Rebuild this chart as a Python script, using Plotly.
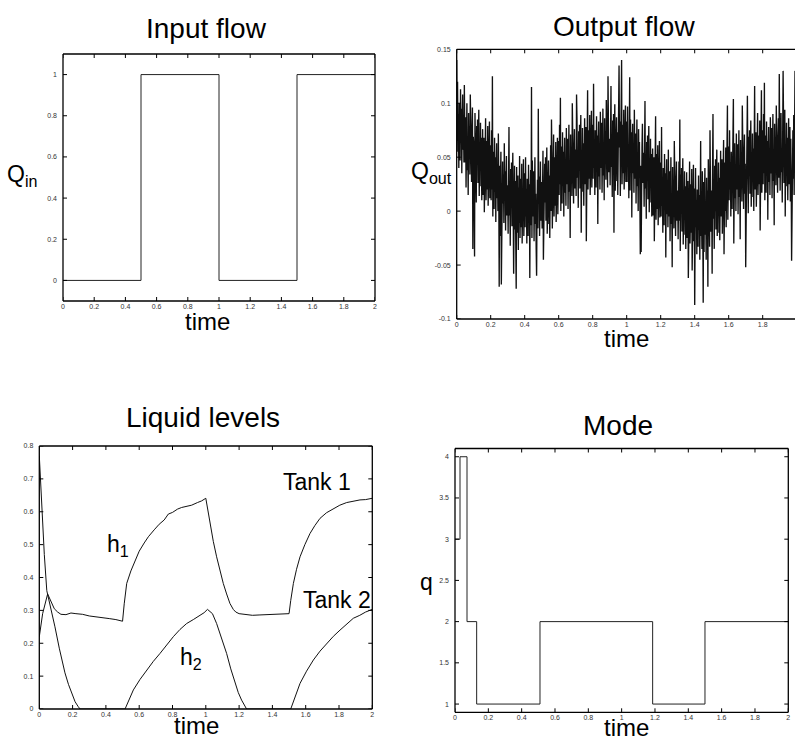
import plotly.graph_objects as go
import numpy as np

W, H = 795, 743

# input flow (step signal)
t_in = [0, 0.5, 1.0, 1.5, 2.0]
q_in = [0, 1, 0, 1, 1]

q_out = [
    0.14, 0.055, 0.12, 0.065, 0.09, 0.04, 0.1, 0.08, 0.047, 0.113, 0.063, 0.095, 0.035, 0.085, 0.108, 0.057, 0.083, 0.045, 0.117, 0.069,
    0.045, 0.087, 0.022, 0.072, 0.1, 0.038, 0.066, 0.015, 0.091, 0.052, 0.079, 0.034, 0.108, 0.057, 0.082, 0.027, 0.074, 0.096, -0.035, 0.069,
    0.062, 0.019, -0.042, 0.091, 0.036, 0.053, 0.008, 0.079, 0.043, 0.085, 0.026, 0.066, 0.094, 0.014, 0.057, 0.039, 0.082, 0.023, 0.068, 0.01,
    0.031, 0.076, 0.015, 0.044, 0.068, -0.001, 0.057, 0.024, 0.086, 0.01, 0.051, 0.065, 0.02, 0.079, 0.005, 0.042, 0.028, 0.083, 0.012, 0.061,
    0.06, 0.01, 0.075, 0.02, 0.125, -0.005, 0.055, 0.035, 0.002, 0.068, 0.018, 0.05, -0.01, 0.04, 0.063, 0.012, 0.038, 0.0, 0.072, 0.024,
    -0.07, 0.042, -0.023, 0.027, 0.055, -0.068, 0.021, -0.03, 0.046, 0.007, 0.034, -0.011, 0.063, 0.012, 0.037, -0.018, 0.029, 0.051, -0.004, 0.024,
    0.022, -0.021, 0.034, 0.078, -0.004, 0.013, -0.032, 0.039, 0.003, 0.045, -0.014, 0.026, 0.054, -0.026, -0.058, -0.001, 0.042, -0.017, 0.028, -0.03,
    -0.072, 0.041, -0.02, 0.009, 0.033, -0.036, 0.022, -0.011, 0.051, -0.025, 0.016, 0.03, -0.015, 0.044, -0.03, 0.007, -0.007, 0.048, -0.023, 0.026,
    0.035, -0.015, 0.05, -0.005, 0.02, -0.03, 0.03, 0.01, -0.023, 0.043, -0.007, 0.025, -0.062, 0.015, 0.038, -0.013, 0.115, -0.025, 0.047, -0.001,
    -0.005, 0.037, -0.028, 0.022, 0.05, -0.012, 0.016, -0.035, -0.06, 0.002, 0.029, -0.016, 0.095, 0.007, 0.032, -0.023, 0.024, 0.046, -0.009, 0.019,
    0.027, -0.016, 0.039, 0.056, -0.045, 0.018, -0.027, 0.044, 0.008, 0.05, -0.009, 0.031, 0.059, -0.021, 0.022, 0.004, 0.047, -0.012, 0.033, -0.025,
    0.016, 0.061, 0.0, 0.085, 0.053, -0.016, 0.042, 0.009, 0.071, -0.005, 0.036, 0.05, 0.005, 0.064, -0.01, 0.027, 0.013, 0.068, -0.003, 0.046,
    0.065, 0.015, 0.08, 0.025, 0.105, 0.0, 0.06, 0.04, 0.007, 0.073, 0.023, 0.055, -0.005, 0.045, 0.068, 0.017, 0.043, 0.005, 0.077, 0.029,
    0.025, 0.067, 0.002, 0.052, 0.08, 0.018, 0.046, -0.025, 0.071, 0.032, 0.059, 0.014, 0.1, 0.037, 0.062, 0.007, 0.054, 0.076, 0.021, 0.049,
    0.057, 0.014, 0.108, 0.086, 0.031, 0.048, 0.003, 0.074, 0.038, 0.08, 0.021, 0.061, 0.089, -0.02, 0.052, 0.034, 0.077, 0.018, 0.063, 0.005,
    0.041, 0.086, 0.025, 0.054, 0.078, -0.028, 0.067, 0.034, 0.112, 0.02, 0.061, 0.075, 0.03, 0.089, 0.015, 0.052, 0.038, 0.093, 0.022, 0.071,
    0.08, 0.03, 0.118, 0.04, 0.065, 0.015, 0.075, 0.055, 0.022, 0.088, 0.038, 0.07, -0.012, 0.06, 0.083, 0.032, 0.058, 0.02, 0.092, 0.044,
    0.04, 0.082, 0.017, 0.067, 0.095, 0.033, 0.061, 0.01, 0.086, 0.047, 0.074, 0.029, 0.103, 0.052, 0.077, 0.022, 0.125, 0.091, 0.036, 0.064,
    0.067, 0.024, 0.079, 0.116, 0.041, 0.058, 0.013, 0.084, 0.048, 0.09, -0.02, 0.071, 0.099, 0.019, 0.062, 0.044, 0.087, 0.028, 0.073, 0.015,
    0.046, 0.091, 0.135, 0.059, 0.083, 0.014, 0.072, 0.039, 0.14, 0.025, 0.066, 0.08, 0.035, 0.094, 0.02, 0.057, 0.043, 0.098, 0.027, 0.076,
    0.083, 0.027, 0.097, 0.043, 0.062, 0.012, 0.078, 0.124, 0.019, 0.085, 0.041, 0.073, -0.006, 0.057, 0.081, 0.035, 0.061, 0.017, 0.094, 0.047,
    0.03, 0.072, 0.007, 0.057, 0.085, 0.023, 0.051, 0.0, 0.076, 0.037, 0.064, 0.019, -0.04, 0.042, -0.038, 0.012, 0.059, 0.081, 0.026, 0.054,
    0.047, 0.004, 0.059, 0.102, 0.021, 0.038, -0.007, 0.064, 0.028, 0.07, 0.011, 0.051, 0.079, -0.001, 0.042, 0.024, 0.067, 0.008, 0.053, -0.005,
    0.019, 0.058, -0.004, 0.032, 0.05, -0.028, 0.045, 0.006, 0.088, -0.008, 0.033, 0.053, 0.002, 0.061, -0.013, 0.03, 0.01, 0.065, -0.006, 0.043,
    0.045, -0.005, 0.078, 0.005, 0.03, -0.02, 0.04, 0.02, -0.013, 0.053, 0.003, 0.035, -0.043, 0.025, 0.048, -0.003, 0.023, -0.015, 0.057, 0.009,
    -0.005, 0.037, -0.028, 0.022, 0.05, -0.012, 0.016, -0.052, 0.041, 0.002, 0.029, -0.016, 0.065, 0.007, 0.032, -0.023, 0.024, 0.046, -0.009, 0.019,
    0.017, -0.026, 0.029, 0.046, -0.009, 0.085, -0.037, 0.034, -0.002, 0.04, -0.019, 0.021, 0.049, -0.031, 0.012, -0.006, 0.037, -0.022, 0.023, -0.035,
    -0.009, 0.036, -0.025, 0.004, 0.028, -0.062, 0.017, -0.016, 0.046, -0.03, 0.011, 0.025, -0.02, 0.039, -0.055, 0.002, -0.012, 0.043, -0.028, 0.021,
    -0.087, -0.025, 0.04, -0.015, 0.01, -0.04, 0.02, 0.0, -0.033, 0.033, -0.017, 0.015, -0.045, 0.005, 0.065, -0.023, -0.003, -0.035, 0.037, -0.011,
    -0.085, 0.027, -0.038, 0.012, 0.04, -0.022, 0.006, -0.045, 0.031, -0.008, 0.019, -0.07, 0.048, -0.003, 0.022, -0.033, 0.075, 0.036, -0.019, 0.009,
    0.019, -0.058, 0.037, 0.09, -0.007, 0.016, -0.035, 0.042, 0.0, 0.048, -0.017, 0.029, 0.057, -0.023, 0.014, 0.002, 0.045, -0.02, 0.031, -0.027,
    0.011, 0.056, -0.005, 0.024, 0.048, -0.021, 0.037, 0.004, 0.066, -0.04, 0.031, 0.045, 0.0, 0.059, -0.015, 0.022, 0.008, 0.098, -0.008, 0.041,
    0.06, 0.01, 0.075, 0.02, 0.045, -0.005, 0.055, 0.035, 0.002, 0.068, 0.018, 0.104, -0.03, 0.04, 0.063, 0.012, 0.038, 0.0, 0.072, 0.024,
    0.02, 0.062, -0.003, 0.047, 0.075, 0.013, 0.041, -0.026, 0.066, 0.027, 0.054, 0.009, 0.098, 0.032, 0.057, 0.002, 0.049, 0.071, 0.016, 0.044,
    -0.052, 0.009, 0.064, 0.081, 0.107, 0.043, -0.002, 0.069, 0.033, 0.075, 0.016, 0.056, 0.084, 0.004, 0.047, 0.029, 0.072, 0.013, 0.058, 0.0,
    0.036, 0.116, 0.02, 0.049, 0.073, 0.004, 0.062, 0.029, 0.091, 0.015, 0.056, 0.07, 0.025, 0.084, -0.018, 0.047, 0.033, 0.112, 0.017, 0.066,
    0.075, 0.025, 0.09, 0.035, 0.119, 0.01, 0.07, 0.05, 0.017, 0.083, 0.033, 0.065, -0.008, 0.055, 0.078, 0.027, 0.053, 0.015, 0.087, 0.039,
    0.035, 0.077, 0.012, 0.062, 0.09, 0.028, 0.056, -0.013, 0.081, 0.042, 0.069, 0.024, 0.098, 0.047, 0.072, 0.017, 0.064, 0.086, 0.031, 0.127,
    0.062, 0.019, 0.074, 0.091, 0.036, 0.053, 0.008, 0.079, 0.13, 0.085, 0.026, 0.066, 0.094, -0.005, 0.057, 0.039, 0.082, 0.023, 0.068, 0.01,
    0.041, 0.086, 0.025, 0.054, 0.078, 0.009, 0.067, 0.034, -0.046, 0.02, 0.061, 0.075, 0.03, 0.089, 0.015, 0.052, 0.13, 0.093, 0.022, 0.071,
]
DT_OUT = 0.0025
t_out = np.arange(len(q_out)) * DT_OUT

# liquid levels
h1_t = [0, 0.02, 0.05, 0.07, 0.09, 0.11, 0.13, 0.16, 0.19, 0.22, 0.26, 0.30, 0.34, 0.38, 0.42, 0.46, 0.50,
        0.51, 0.525, 0.55, 0.575, 0.60, 0.63, 0.655, 0.69, 0.72, 0.75, 0.775, 0.80, 0.83, 0.855, 0.88, 0.915, 0.95, 0.975, 1.0,
        1.01, 1.025, 1.045, 1.065, 1.085, 1.105, 1.125, 1.145, 1.165, 1.18, 1.20, 1.24, 1.28, 1.32, 1.36, 1.40, 1.44, 1.48, 1.50,
        1.51, 1.526, 1.545, 1.566, 1.595, 1.626, 1.655, 1.686, 1.725, 1.766, 1.805, 1.846, 1.885, 1.926, 1.96, 2.0]
h1 = [0.22, 0.29, 0.35, 0.33, 0.305, 0.295, 0.288, 0.287, 0.292, 0.29, 0.288, 0.283, 0.281, 0.277, 0.275, 0.272, 0.267,
      0.32, 0.382, 0.42, 0.453, 0.48, 0.505, 0.524, 0.545, 0.562, 0.575, 0.593, 0.598, 0.608, 0.613, 0.615, 0.62, 0.628, 0.633, 0.641,
      0.61, 0.566, 0.51, 0.463, 0.42, 0.382, 0.35, 0.321, 0.303, 0.295, 0.29, 0.287, 0.285, 0.286, 0.287, 0.288, 0.288, 0.289, 0.29,
      0.33, 0.382, 0.425, 0.463, 0.50, 0.534, 0.558, 0.58, 0.597, 0.61, 0.62, 0.628, 0.632, 0.636, 0.637, 0.641]

h2_t = [0, 0.01, 0.02, 0.03, 0.045, 0.07, 0.094, 0.12, 0.154, 0.175, 0.195, 0.215, 0.234, 0.245, 0.515,
        0.54, 0.565, 0.605, 0.645, 0.685, 0.725, 0.765, 0.805, 0.845, 0.885, 0.925, 0.965, 0.99, 1.01,
        1.04, 1.065, 1.095, 1.125, 1.15, 1.175, 1.195, 1.215, 1.232, 1.245, 1.51,
        1.54, 1.566, 1.605, 1.646, 1.686, 1.726, 1.766, 1.806, 1.846, 1.886, 1.925, 1.96, 2.0]
h2 = [0.77, 0.66, 0.56, 0.47, 0.36, 0.305, 0.25, 0.185, 0.11, 0.075, 0.048, 0.022, 0.007, 0, 0,
      0.03, 0.058, 0.09, 0.119, 0.145, 0.169, 0.196, 0.22, 0.242, 0.26, 0.272, 0.286, 0.293, 0.303,
      0.29, 0.26, 0.215, 0.169, 0.122, 0.078, 0.05, 0.027, 0.01, 0, 0,
      0.04, 0.078, 0.115, 0.149, 0.176, 0.2, 0.221, 0.24, 0.259, 0.276, 0.285, 0.295, 0.303]

# discrete mode
t_mode = [0, 0.03, 0.072, 0.13, 0.51, 1.186, 1.50, 2.0]
q_mode = [3, 4, 2, 1, 2, 1, 2, 2]

# tick values
time_ticks = [0, 0.2, 0.4, 0.6, 0.8, 1, 1.2, 1.4, 1.6, 1.8, 2]
qin_ticks = [0, 0.2, 0.4, 0.6, 0.8, 1]
qout_ticks = [-0.1, -0.05, 0, 0.05, 0.1, 0.15]
qout_labels = ['-0.1', '-0.05', '0', '0.05', '0.1', '0.15']
level_ticks = [0, 0.1, 0.2, 0.3, 0.4, 0.5, 0.6, 0.7, 0.8]
mode_ticks = [1, 1.5, 2, 2.5, 3, 3.5, 4]

FONT = "Liberation Sans, Arial, sans-serif"


def fx(p):
    return p / W


def fy(p):
    return 1 - p / H


def axis(dom, **kw):
    d = dict(domain=dom, showline=False, ticks='', showgrid=False, zeroline=False,
             automargin=False, tickfont=dict(family=FONT, size=7, color='#333'))
    d.update(kw)
    return d


fig = go.Figure()
fig.add_trace(go.Scatter(x=t_in, y=q_in, mode='lines', line=dict(color='#222', width=1, shape='hv'),
                         xaxis='x', yaxis='y'))
fig.add_trace(go.Scatter(x=t_out, y=q_out, mode='lines', line=dict(color='#111', width=1.35),
                         xaxis='x2', yaxis='y2'))
fig.add_trace(go.Scatter(x=h1_t, y=h1, mode='lines', line=dict(color='#111', width=1),
                         xaxis='x3', yaxis='y3'))
fig.add_trace(go.Scatter(x=h2_t, y=h2, mode='lines', line=dict(color='#111', width=1),
                         xaxis='x3', yaxis='y3'))
fig.add_trace(go.Scatter(x=t_mode, y=q_mode, mode='lines', line=dict(color='#222', width=1, shape='hv'),
                         xaxis='x4', yaxis='y4'))

# panel boxes in pixels: left, right, top, bottom
boxes = {
    '': (63, 375, 54, 301),
    '2': (456.7, 795, 49.3, 319),
    '3': (39.3, 372.3, 446, 709),
    '4': (455, 788.3, 448.5, 712.3),
}

fig.update_layout(
    template='none',
    width=W, height=H, margin=dict(l=0, r=0, t=0, b=0, pad=0),
    paper_bgcolor='white', plot_bgcolor='white', showlegend=False,
    font=dict(family=FONT, color='black'),
    xaxis=axis([fx(63), fx(375)], anchor='y', range=[0, 2], tickvals=time_ticks),
    yaxis=axis([fy(301), fy(54)], anchor='x', range=[-0.1, 1.1], tickvals=qin_ticks, ticklabelstandoff=5),
    xaxis2=axis([fx(456.7), 1.0], anchor='y2', range=[0, 1.99], tickvals=time_ticks[:-1]),
    yaxis2=axis([fy(319), fy(49.3)], anchor='x2', range=[-0.1, 0.15],
                tickvals=qout_ticks, ticktext=qout_labels, ticklabelstandoff=5),
    xaxis3=axis([fx(39.3), fx(372.3)], anchor='y3', range=[0, 2], tickvals=time_ticks),
    yaxis3=axis([fy(709), fy(446)], anchor='x3', range=[0, 0.8], tickvals=level_ticks, ticklabelstandoff=5),
    xaxis4=axis([fx(455), fx(788.3)], anchor='y4', range=[0, 2], tickvals=time_ticks),
    yaxis4=axis([fy(712.3), fy(448.5)], anchor='x4', range=[0.9, 4.1], tickvals=mode_ticks, ticklabelstandoff=5),
)

# frames and inward ticks on every side, drawn as shapes
TL = 4
frame = dict(color='black', width=1)
panel_ticks = {'': (time_ticks, qin_ticks), '2': (time_ticks[:-1], qout_ticks),
               '3': (time_ticks, level_ticks), '4': (time_ticks, mode_ticks)}
for k, (l, r, t, b) in boxes.items():
    xr, yr = 'x' + k, 'y' + k
    pw, ph = r - l, b - t
    xs, ys = panel_ticks[k]
    # box edges
    edges = [(0, 0, 1, 0), (0, 1, 1, 1), (0, 0, 0, 1)]
    if k != '2':
        edges.append((1, 0, 1, 1))
    for x0, y0, x1, y1 in edges:
        fig.add_shape(type='line', xref=xr + ' domain', yref=yr + ' domain',
                      x0=x0, y0=y0, x1=x1, y1=y1, line=dict(color='black', width=1.3))
    for v in xs:
        fig.add_shape(type='line', xref=xr, yref=yr + ' domain', x0=v, x1=v, y0=0, y1=TL / ph, line=frame)
        fig.add_shape(type='line', xref=xr, yref=yr + ' domain', x0=v, x1=v, y0=1, y1=1 - TL / ph, line=frame)
    for v in ys:
        fig.add_shape(type='line', xref=xr + ' domain', yref=yr, x0=0, x1=TL / pw, y0=v, y1=v, line=frame)
        if k != '2':
            fig.add_shape(type='line', xref=xr + ' domain', yref=yr, x0=1, x1=1 - TL / pw, y0=v, y1=v, line=frame)

texts = [
    ("Input flow", 206.7, 29, 28),
    ("Output flow", 624.2, 26, 28),
    ("Liquid levels", 203.3, 417, 28),
    ("Mode", 618.3, 426, 28),
    ("time", 207.8, 322, 24),
    ("time", 626, 338, 24),
    ("time", 196.2, 725, 24),
    ("time", 626.3, 727, 24),
    ("Q<sub>in</sub>", 22, 176, 23),
    ("Q<sub>out</sub>", 431.5, 172, 23),
    ("q", 426, 582, 23),
    ("Tank 1", 317, 482, 23),
    ("Tank 2", 336.7, 600, 23),
    ("h<sub>1</sub>", 118, 545, 23),
    ("h<sub>2</sub>", 191, 658, 23),
]
for txt, x, y, size in texts:
    fig.add_annotation(text=txt, x=fx(x), y=fy(y), xref='paper', yref='paper',
                       xanchor='center', yanchor='middle', showarrow=False,
                       font=dict(family=FONT, size=size, color='black'))

fig.write_html("out.html", config={'displayModeBar': False},
               post_script="document.body.style.margin='0';")
